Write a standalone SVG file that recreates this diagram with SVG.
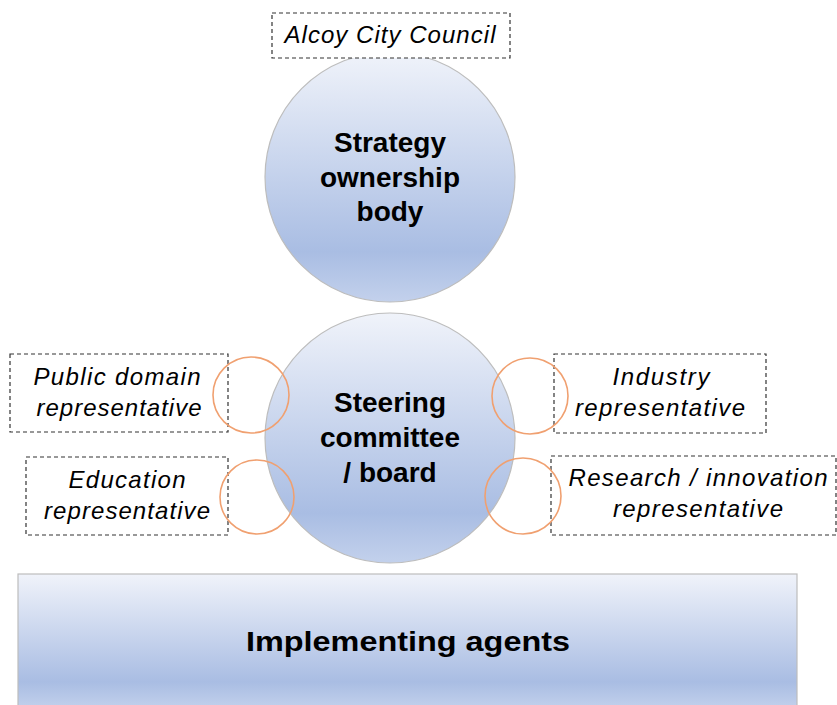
<svg xmlns="http://www.w3.org/2000/svg" width="837" height="705" viewBox="0 0 837 705">
<style>
.bold{font-family:"Liberation Sans","Noto Sans",sans-serif;font-weight:bold;fill:#000;text-anchor:middle;font-size:28px}
.ital{font-family:"Liberation Sans","Noto Sans",sans-serif;font-style:italic;font-size:24px;fill:#000;text-anchor:middle}
.dash{fill:#fff;stroke:#333;stroke-width:1.2;stroke-dasharray:4 3}
.ring{fill:none;stroke:#f0a070;stroke-width:1.6}
.big{stroke:#bdbdbd;stroke-width:1.2}
</style>
<defs>
<linearGradient id="g" x1="0" y1="0" x2="0" y2="1">
<stop offset="0" stop-color="#f0f3fa"/>
<stop offset="0.8" stop-color="#a9bde3"/>
<stop offset="1" stop-color="#c3d1ec"/>
</linearGradient>
</defs>
<rect width="837" height="705" fill="#fff"/>
<g id="implementing">
<rect x="18" y="574" width="779" height="135" fill="url(#g)" class="big"/>
<text class="bold" x="408" y="651" font-size="30" textLength="324" lengthAdjust="spacingAndGlyphs">Implementing agents</text>
</g>
<g id="strategy">
<circle cx="390" cy="177" r="125" fill="url(#g)" class="big"/>
<text class="bold" x="390" y="152">Strategy</text>
<text class="bold" x="390" y="187">ownership</text>
<text class="bold" x="390" y="221">body</text>
</g>
<g id="alcoy">
<rect x="272" y="13" width="238" height="45" class="dash"/>
<text class="ital" x="390" y="43" textLength="211">Alcoy City Council</text>
</g>
<g id="public">
<rect x="10" y="354" width="218" height="78" class="dash"/>
<text class="ital" x="117" y="385" textLength="167">Public domain</text>
<text class="ital" x="119" y="416" textLength="165">representative</text>
</g>
<g id="education">
<rect x="26" y="457" width="202" height="78" class="dash"/>
<text class="ital" x="127" y="488" textLength="117">Education</text>
<text class="ital" x="127" y="519" textLength="166">representative</text>
</g>
<g id="industry">
<rect x="554" y="354" width="212" height="79" class="dash"/>
<text class="ital" x="661" y="385" textLength="97">Industry</text>
<text class="ital" x="660" y="416" textLength="170">representative</text>
</g>
<g id="research">
<rect x="551" y="456" width="285" height="79" class="dash"/>
<text class="ital" x="698" y="486" textLength="259">Research / innovation</text>
<text class="ital" x="698" y="517" textLength="170">representative</text>
</g>
<g id="steering">
<circle cx="390" cy="438" r="125" fill="url(#g)" class="big"/>
<text class="bold" x="390" y="412">Steering</text>
<text class="bold" x="390" y="447">committee</text>
<text class="bold" x="390" y="482">/ board</text>
</g>
<g id="connectors">
<circle cx="251" cy="395" r="38" class="ring"/>
<circle cx="257" cy="497" r="37" class="ring"/>
<circle cx="530" cy="396" r="38" class="ring"/>
<circle cx="523" cy="496" r="38" class="ring"/>
</g>
</svg>
